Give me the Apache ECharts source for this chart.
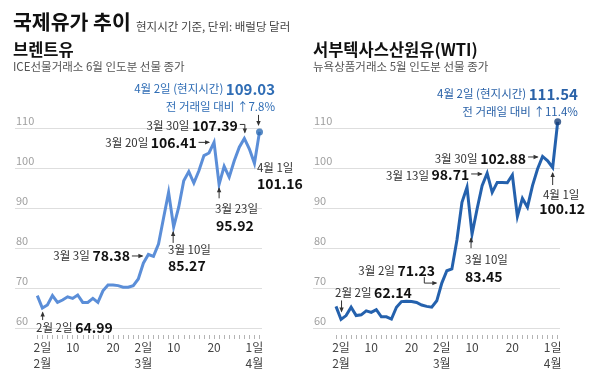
<!DOCTYPE html>
<html><head><meta charset="utf-8">
<script src="https://cdn.jsdelivr.net/npm/echarts@6/dist/echarts.min.js"></script>
<style>html,body{margin:0;padding:0;background:#fff}#c{width:600px;height:386px}</style>
</head><body><div id="c"></div><script>
// ---- data ----
const dates = ['1/30','2/2','2/3','2/4','2/5','2/6','2/9','2/10','2/11','2/12','2/13','2/16','2/17','2/18','2/19','2/20','2/23','2/24','2/25','2/26','2/27',
  '3/2','3/3','3/4','3/5','3/6','3/9','3/10','3/11','3/12','3/13','3/16','3/17','3/18','3/19','3/20','3/23','3/24','3/25','3/26','3/27','3/30','3/31','4/1','4/2'];
const brent = [68.1,64.99,65.75,68.1,66.4,67.0,67.8,67.4,68.25,66.4,66.4,67.4,66.4,69.3,70.75,70.75,70.6,70.2,70.2,70.6,72.25,
  76.2,78.38,77.9,81.0,87.5,93.9,85.27,90.2,96.8,99.1,96.25,99.3,103.1,103.75,106.41,95.92,100.4,97.7,101.8,105.2,107.39,104.75,101.16,109.03];
const wti = [65.4,62.14,63.1,65.2,63.1,63.3,64.3,63.9,64.6,62.8,62.8,62.25,65.2,66.6,66.7,66.6,66.4,65.75,65.4,65.2,66.8,
  71.23,74.3,74.75,82.0,91.4,95.2,83.45,89.75,95.6,98.71,93.9,96.4,96.4,96.3,98.25,87.9,92.4,90.2,95.6,99.75,102.88,101.8,100.12,111.54];
const labelIdx = [1,7,15,21,27,35,43];
const labelText = ['2일\n2월','10','20','2일\n3월','10','20','1일\n4월'];
const yMin = 60, yMax = 110, yStep = 10;

const FK = '"Noto Sans CJK KR","Noto Sans",sans-serif';
const chart = echarts.init(document.getElementById('c'), null, {renderer:'canvas'});

function bgGrid(i){return {gridIndex:i,type:'value',show:false,min:0,max:1};}
function catAxis(i){return {gridIndex:i,type:'category',data:dates,boundaryGap:false,offset:7,
  axisLine:{show:false},axisTick:{show:true,interval:0,length:4,lineStyle:{color:'#b5b5b5',width:1}},
  axisLabel:{interval:(idx)=>labelIdx.indexOf(idx)>=0,formatter:(v,idx)=>{const k=labelIdx.indexOf(idx);return k>=0?labelText[k]:'';},
    color:'#444',fontSize:12,lineHeight:16,margin:4,fontFamily:FK}};}
function bgY(i){return {gridIndex:i,type:'value',min:yMin,max:yMax,interval:yStep,axisLine:{show:false},axisTick:{show:false},
  splitLine:{show:true,lineStyle:{color:'#dedede',width:1}},
  axisLabel:{inside:true,verticalAlign:'bottom',color:'#a0a0a0',fontSize:11,margin:1,padding:[0,0,2,0],fontFamily:FK}};}
function hidY(i){return {gridIndex:i,type:'value',min:yMin,max:yMax,show:false,splitLine:{show:false}};}

chart.setOption({
  animation:false,
  grid:[
    {left:15,top:128,width:247,height:200},
    {left:37.3,top:128,width:222.2,height:200},
    {left:313,top:128,width:247,height:200},
    {left:336,top:128,width:221.7,height:200}
  ],
  xAxis:[bgGrid(0),catAxis(1),bgGrid(2),catAxis(3)],
  yAxis:[bgY(0),hidY(1),bgY(2),hidY(3)],
  series:[
    {type:'line',xAxisIndex:1,yAxisIndex:1,data:brent,showSymbol:false,clip:false,lineStyle:{color:'#5b8ed8',width:3,join:'miter'},z:3},
    {type:'line',xAxisIndex:3,yAxisIndex:3,data:wti,showSymbol:false,clip:false,lineStyle:{color:'#2461ad',width:3,join:'miter'},z:3},
    {type:'scatter',xAxisIndex:1,yAxisIndex:1,clip:false,data:[[brent.length-1,brent[brent.length-1]]],symbolSize:7,itemStyle:{color:'#2d6bb4'},z:4},
    {type:'scatter',xAxisIndex:3,yAxisIndex:3,clip:false,data:[[wti.length-1,wti[wti.length-1]]],symbolSize:7,itemStyle:{color:'#173f78'},z:4}
  ]
});

// ---- annotations ----
const G = [];
function txt(x,y,text,rich,align,va,extra){
  const st = Object.assign({text:text,x:x,y:y,rich:rich,align:align,verticalAlign:va,textAlign:align,textVerticalAlign:va,fontFamily:FK,fontSize:12,fill:'#333'},extra||{});
  G.push({type:'text',silent:true,z:10,style:st});
}
const R = {
  a:{fontSize:11.5,fill:'#333',color:'#333',fontFamily:FK},
  b:{fontSize:14,fontWeight:'bold',fill:'#111',color:'#111',fontFamily:FK},
  ba:{fontSize:11.5,fill:'#2f6db5',color:'#2f6db5',fontFamily:FK},
  bb:{fontSize:15,fontWeight:'bold',fill:'#2f6db5',color:'#2f6db5',fontFamily:FK},
  ca:{fontSize:11.5,fill:'#2a62a8',color:'#2a62a8',fontFamily:FK},
  cb:{fontSize:15,fontWeight:'bold',fill:'#2a62a8',color:'#2a62a8',fontFamily:FK}
};
function arrow(pts,col){
  col = col||'#333';
  G.push({type:'polyline',silent:true,z:10,shape:{points:pts},style:{stroke:col,lineWidth:1,fill:null}});
  const p1=pts[pts.length-2],p2=pts[pts.length-1];
  const dx=p2[0]-p1[0],dy=p2[1]-p1[1],L=Math.hypot(dx,dy)||1,ux=dx/L,uy=dy/L;
  const h=4,w=2.2;
  G.push({type:'polygon',silent:true,z:10,shape:{points:[[p2[0]+ux,p2[1]+uy],[p2[0]-ux*h-uy*w,p2[1]-uy*h+ux*w],[p2[0]-ux*h+uy*w,p2[1]-uy*h-ux*w]]},style:{fill:col}});
}
function P(si,idx,arr){return chart.convertToPixel({seriesIndex:si},[idx,arr[idx]]);}

// titles
txt(13,22,'국제유가 추이',null,'left','middle',{fontSize:20.5,fontWeight:'bold',fill:'#111'});
txt(136,26.5,'현지시간 기준, 단위: 배럴당 달러',null,'left','middle',{fontSize:11.5,fill:'#444'});
txt(13,50,'브렌트유',null,'left','middle',{fontSize:16.5,fontWeight:'bold',fill:'#111'});
txt(13,67,'ICE선물거래소 6월 인도분 선물 종가',null,'left','middle',{fontSize:11.5,fill:'#555'});
txt(313,50,'서부텍사스산원유(WTI)',null,'left','middle',{fontSize:16.5,fontWeight:'bold',fill:'#111'});
txt(313,67,'뉴욕상품거래소 5월 인도분 선물 종가',null,'left','middle',{fontSize:11.5,fill:'#555'});

// Brent annotations
let p;
p=P(0,44,brent);
txt(p[0]+15.5,p[1]-43,'{ba|4월 2일 (현지시간) }{bb|'+brent[44].toFixed(2)+'}',R,'right','middle');
txt(p[0]+15.5,p[1]-25,'{ba|전 거래일 대비 ↑7.8%}',R,'right','middle');
arrow([[p[0]-1,p[1]-17],[p[0]-1,p[1]-7]]);
p=P(0,41,brent);
txt(p[0]-6.5,p[1]-12.5,'{a|3월 30일 }{b|'+brent[41].toFixed(2)+'}',R,'right','middle');
arrow([[p[0]-4.5,p[1]-14],[p[0]+0.5,p[1]-14],[p[0]+0.5,p[1]-6]]);
p=P(0,35,brent);
txt(p[0]-17.4,p[1]+0.5,'{a|3월 20일 }{b|'+brent[35].toFixed(2)+'}',R,'right','middle');
arrow([[p[0]-15.5,p[1]],[p[0]-5,p[1]]]);
p=P(0,36,brent);
arrow([[p[0],p[1]+14],[p[0],p[1]+4]]);
txt(p[0]-4,p[1]+24,'{a|3월 23일}',R,'left','middle');
txt(p[0]-3,p[1]+41,'{b|'+brent[36].toFixed(2)+'}',R,'left','middle');
p=P(0,43,brent);
txt(p[0]+2.5,p[1]+4.6,'{a|4월 1일}',R,'left','middle');
txt(p[0]+2.5,p[1]+20.6,'{b|'+brent[43].toFixed(2)+'}',R,'left','middle');
p=P(0,27,brent);
arrow([[p[0]-0.5,p[1]+16],[p[0]-0.5,p[1]+5]]);
txt(p[0]-5.6,p[1]+23,'{a|3월 10일}',R,'left','middle');
txt(p[0]-5.6,p[1]+39,'{b|'+brent[27].toFixed(2)+'}',R,'left','middle');
p=P(0,22,brent);
txt(p[0]-18.4,p[1]+1.5,'{a|3월 3일 }{b|'+brent[22].toFixed(2)+'}',R,'right','middle');
arrow([[p[0]-16.5,p[1]+1.5],[p[0]-6,p[1]+1.5]]);
p=P(0,1,brent);
arrow([[p[0]+0.3,p[1]+12],[p[0]+0.3,p[1]+4.5]]);
txt(p[0]-6.3,p[1]+20,'{a|2월 2일 }{b|'+brent[1].toFixed(2)+'}',R,'left','middle');

// WTI annotations
p=P(1,44,wti);
txt(p[0]+20.2,p[1]-28,'{ca|4월 2일 (현지시간) }{cb|'+wti[44].toFixed(2)+'}',R,'right','middle');
txt(p[0]+20.2,p[1]-10,'{ca|전 거래일 대비 ↑11.4%}',R,'right','middle');
p=P(1,41,wti);
txt(p[0]-16.6,p[1]+2.5,'{a|3월 30일 }{b|'+wti[41].toFixed(2)+'}',R,'right','middle');
arrow([[p[0]-14.5,p[1]+0.5],[p[0]-5,p[1]+0.5]]);
p=P(1,30,wti);
txt(p[0]-18,p[1]+2,'{a|3월 13일 }{b|'+wti[30].toFixed(2)+'}',R,'right','middle');
arrow([[p[0]-16,p[1]+0.8],[p[0]-5.5,p[1]+0.8]]);
p=P(1,43,wti);
arrow([[p[0],p[1]+17.5],[p[0],p[1]+5.5]]);
txt(p[0]+8.5,p[1]+27.5,'{a|4월 1일}',R,'center','middle');
txt(p[0]+9.5,p[1]+41.5,'{b|'+wti[43].toFixed(2)+'}',R,'center','middle');
p=P(1,27,wti);
arrow([[p[0]-1,p[1]+14],[p[0]-1,p[1]+4]]);
txt(p[0]-7,p[1]+25,'{a|3월 10일}',R,'left','middle');
txt(p[0]-7,p[1]+42,'{b|'+wti[27].toFixed(2)+'}',R,'left','middle');
p=P(1,21,wti);
txt(p[0]-6.8,p[1]-12,'{a|3월 2일 }{b|'+wti[21].toFixed(2)+'}',R,'right','middle');
arrow([[p[0]-17.5,p[1]-6],[p[0]-17.5,p[1]],[p[0]-5.5,p[1]]]);
p=P(1,1,wti);
arrow([[p[0]+0.5,p[1]-19],[p[0]+0.5,p[1]-8]]);
txt(p[0]-6,p[1]-27,'{a|2월 2일 }{b|'+wti[1].toFixed(2)+'}',R,'left','middle');

chart.setOption({graphic:G});
</script></body></html>
